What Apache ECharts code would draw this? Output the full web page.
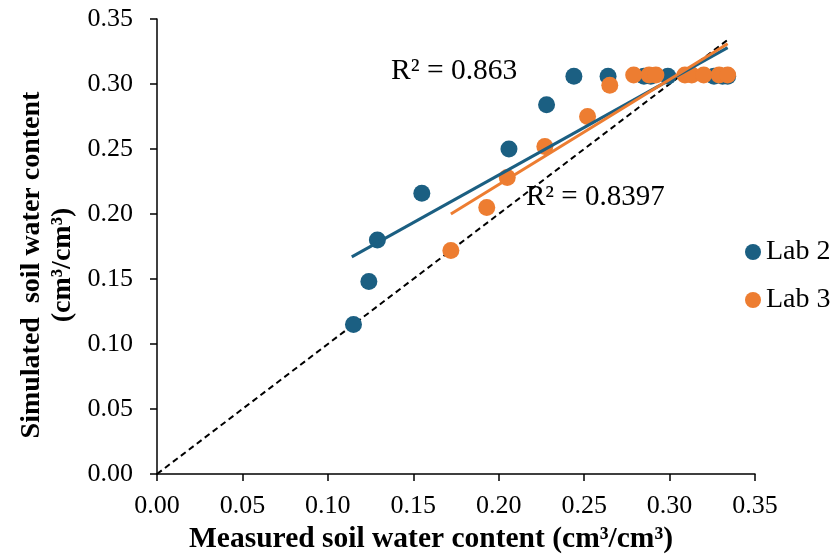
<!DOCTYPE html>
<html>
<head>
<meta charset="utf-8">
<script src="https://cdn.jsdelivr.net/npm/echarts@6/dist/echarts.min.js"></script>
<style>
  html, body { margin: 0; padding: 0; background: #fff; }
  #chart { width: 839px; height: 558px; }
</style>
</head>
<body>
<div id="chart"></div>
<script>
// Measured vs simulated soil water content (cm3/cm3)
const lab2Measured  = [0.115, 0.124, 0.129, 0.155, 0.206, 0.228, 0.244, 0.264, 0.285, 0.289, 0.299, 0.326, 0.331, 0.334];
const lab2Simulated = [0.115, 0.148, 0.180, 0.216, 0.250, 0.284, 0.306, 0.306, 0.306, 0.306, 0.306, 0.306, 0.306, 0.306];
const lab3Measured  = [0.172, 0.193, 0.205, 0.227, 0.252, 0.265, 0.279, 0.288, 0.292, 0.309, 0.313, 0.320, 0.329, 0.334];
const lab3Simulated = [0.172, 0.205, 0.228, 0.252, 0.275, 0.299, 0.307, 0.307, 0.307, 0.307, 0.307, 0.307, 0.307, 0.307];

// Linear trendlines (start / end)
const lab2TrendX = [0.114, 0.334];
const lab2TrendY = [0.167, 0.328];
const lab3TrendX = [0.172, 0.334];
const lab3TrendY = [0.200, 0.331];
const lab2R2 = 'R² = 0.863';
const lab3R2 = 'R² = 0.8397';

// 1:1 reference line
const oneToOne = [0, 0.335];

const axisTicks = [0, 0.05, 0.10, 0.15, 0.20, 0.25, 0.30, 0.35];

const BLUE = '#1b5f82';
const ORANGE = '#ed7d31';
const FONT = '"Liberation Serif", "Times New Roman", serif';

const zip = (xs, ys) => xs.map((x, i) => [x, ys[i]]);

const chart = echarts.init(document.getElementById('chart'));

const axisCommon = {
  type: 'value',
  min: axisTicks[0],
  max: axisTicks[axisTicks.length - 1],
  interval: 0.05,
  splitLine: { show: false },
  axisLine: { show: true, lineStyle: { color: '#000', width: 1.5 } },
  axisTick: { show: true, inside: false, length: 7, lineStyle: { color: '#000', width: 1.5 } },
  axisLabel: {
    color: '#000', fontFamily: FONT, fontSize: 26,
    formatter: v => v.toFixed(2)
  }
};

chart.setOption({
  animation: false,
  backgroundColor: '#fff',
  grid: { left: 157, right: 84, top: 19, bottom: 84, containLabel: false },
  xAxis: Object.assign({}, axisCommon, {
    axisLabel: Object.assign({}, axisCommon.axisLabel, { margin: 19 })
  }),
  yAxis: Object.assign({}, axisCommon, {
    axisLabel: Object.assign({}, axisCommon.axisLabel, { margin: 24 })
  }),
  legend: {
    orient: 'vertical',
    left: 745,
    top: 238,
    padding: 0,
    itemGap: 20,
    itemWidth: 16,
    itemHeight: 16,
    icon: 'circle',
    textStyle: { color: '#000', fontFamily: FONT, fontSize: 28 },
    data: ['Lab 2', 'Lab 3']
  },
  series: [
    {
      name: '1:1',
      type: 'line',
      data: zip(oneToOne, oneToOne),
      symbol: 'none',
      lineStyle: { color: '#000', width: 2, type: [6, 4] },
      z: 1
    },
    {
      name: 'Lab 2',
      type: 'scatter',
      data: zip(lab2Measured, lab2Simulated),
      symbolSize: 17,
      itemStyle: { color: BLUE, opacity: 1 },
      z: 2
    },
    {
      name: 'Lab 3',
      type: 'scatter',
      data: zip(lab3Measured, lab3Simulated),
      symbolSize: 17,
      itemStyle: { color: ORANGE, opacity: 1 },
      z: 3
    },
    {
      name: 'Lab 2 trend',
      type: 'line',
      data: zip(lab2TrendX, lab2TrendY),
      symbol: 'none',
      lineStyle: { color: BLUE, width: 3 },
      z: 4
    },
    {
      name: 'Lab 3 trend',
      type: 'line',
      data: zip(lab3TrendX, lab3TrendY),
      symbol: 'none',
      lineStyle: { color: ORANGE, width: 3 },
      z: 5
    }
  ],
  graphic: [
    {
      type: 'text', left: 391, top: 56, z: 10,
      style: { text: lab2R2, fill: '#000', font: '29.5px ' + FONT }
    },
    {
      type: 'text', left: 526, top: 183, z: 10,
      style: { text: lab3R2, fill: '#000', font: '29px ' + FONT }
    },
    {
      type: 'text', left: 189, top: 524,
      style: { text: 'Measured soil water content (cm³/cm³)', fill: '#000', font: 'bold 29.5px ' + FONT }
    },
    {
      type: 'text', x: 16, y: 265, rotation: Math.PI / 2,
      style: {
        text: 'Simulated  soil water content\n(cm³/cm³)',
        fill: '#000', font: 'bold 28px ' + FONT,
        align: 'center', verticalAlign: 'top', lineHeight: 31
      }
    }
  ]
});
</script>
</body>
</html>
